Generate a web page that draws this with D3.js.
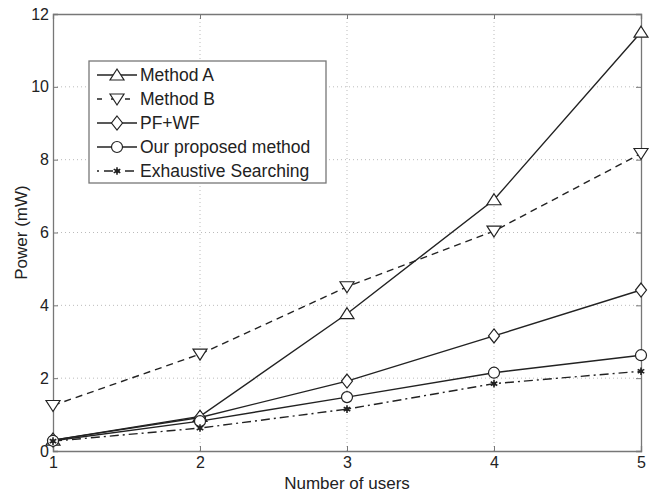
<!DOCTYPE html>
<html>
<head>
<meta charset="utf-8">
<script src="https://cdn.jsdelivr.net/npm/d3@7"></script>
<style>
	body { margin: 0; background: #fff; }
	text { font-family: "Liberation Sans", Arial, sans-serif; fill: #222; }
</style>
</head>
<body>
<svg id="chart" width="654" height="492"></svg>
<script>
const users = [1, 2, 3, 4, 5];
const methodA = [0.3, 0.95, 3.77, 6.9, 11.5];
const methodB = [1.25, 2.66, 4.51, 6.04, 8.17];
const pfwf = [0.3, 0.92, 1.92, 3.16, 4.42];
const proposed = [0.28, 0.82, 1.48, 2.15, 2.63];
const exhaustive = [0.27, 0.63, 1.15, 1.85, 2.19];
const yTicks = [0, 2, 4, 6, 8, 10, 12];

const seriesList = [
	{ name: "Method A", values: methodA, marker: "triUp", dash: null },
	{ name: "Method B", values: methodB, marker: "triDown", dash: "7,5" },
	{ name: "PF+WF", values: pfwf, marker: "diamond", dash: null },
	{ name: "Our proposed method", values: proposed, marker: "circle", dash: null },
	{ name: "Exhaustive Searching", values: exhaustive, marker: "star", dash: "9,4,2,4" }
];

const margin = { left: 53, right: 13, top: 14, bottom: 41 };
const svg = d3.select("#chart");
const width = 654 - margin.left - margin.right;
const height = 492 - margin.top - margin.bottom;
const g = svg.append("g").attr("transform", `translate(${margin.left},${margin.top})`);

const x = d3.scaleLinear().domain([1, 5]).range([0, width]);
const y = d3.scaleLinear().domain([0, 12]).range([height, 0]);

const axisColor = "#777";

// dotted grid
g.append("g").selectAll("line.gx")
	.data(users.slice(1, -1))
	.enter().append("line")
	.attr("x1", d => x(d)).attr("x2", d => x(d))
	.attr("y1", 0).attr("y2", height)
	.attr("stroke", "#bbb").attr("stroke-dasharray", "1,3");
g.append("g").selectAll("line.gy")
	.data(yTicks.slice(1, -1))
	.enter().append("line")
	.attr("x1", 0).attr("x2", width)
	.attr("y1", d => y(d)).attr("y2", d => y(d))
	.attr("stroke", "#bbb").attr("stroke-dasharray", "1,3");

// axes (ticks pointing inward, box style)
const xAxis = g.append("g").attr("transform", `translate(0,${height})`)
	.call(d3.axisBottom(x).tickValues(users).tickSize(-5).tickPadding(6).tickFormat(d3.format("d")));
const xAxisTop = g.append("g")
	.call(d3.axisTop(x).tickValues(users).tickSize(-5).tickFormat(""));
const yAxis = g.append("g")
	.call(d3.axisLeft(y).tickValues(yTicks).tickSize(-5).tickPadding(4).tickFormat(d3.format("d")));
const yAxisRight = g.append("g").attr("transform", `translate(${width},0)`)
	.call(d3.axisRight(y).tickValues(yTicks).tickSize(-5).tickFormat(""));

[xAxis, xAxisTop, yAxis, yAxisRight].forEach(a => {
	a.select(".domain").attr("stroke", axisColor).attr("stroke-width", 1.3);
	a.selectAll(".tick line").attr("stroke", axisColor);
	a.selectAll(".tick text").style("font-size", "16px").attr("fill", "#222")
		.style("font-family", "Liberation Sans, Arial, sans-serif");
});

// axis labels
svg.append("text")
	.attr("x", margin.left + width / 2).attr("y", 489)
	.attr("text-anchor", "middle").style("font-size", "17px")
	.text("Number of users");
svg.append("text")
	.attr("transform", `translate(27,${margin.top + height / 2}) rotate(-90)`)
	.attr("text-anchor", "middle").style("font-size", "17px")
	.text("Power (mW)");

function drawMarker(sel, type, cx, cy) {
	const stroke = "#222";
	if (type === "triUp") {
		sel.append("path").attr("d", `M${cx},${cy - 6}L${cx + 7},${cy + 5}L${cx - 7},${cy + 5}Z`)
			.attr("fill", "#fff").attr("stroke", stroke).attr("stroke-width", 1.2);
	} else if (type === "triDown") {
		sel.append("path").attr("d", `M${cx},${cy + 6}L${cx + 7},${cy - 5}L${cx - 7},${cy - 5}Z`)
			.attr("fill", "#fff").attr("stroke", stroke).attr("stroke-width", 1.2);
	} else if (type === "diamond") {
		sel.append("path").attr("d", `M${cx},${cy - 7}L${cx + 5.5},${cy}L${cx},${cy + 7}L${cx - 5.5},${cy}Z`)
			.attr("fill", "#fff").attr("stroke", stroke).attr("stroke-width", 1.2);
	} else if (type === "circle") {
		sel.append("circle").attr("cx", cx).attr("cy", cy).attr("r", 5.5)
			.attr("fill", "#fff").attr("stroke", stroke).attr("stroke-width", 1.2);
	} else if (type === "star") {
		sel.append("path").attr("d", d3.symbol().type(d3.symbolAsterisk).size(40)())
			.attr("transform", `translate(${cx},${cy})`)
			.attr("fill", "none").attr("stroke", stroke).attr("stroke-width", 1.6);
		sel.append("circle").attr("cx", cx).attr("cy", cy).attr("r", 2).attr("fill", stroke);
	}
}

const line = d3.line().x((d, i) => x(users[i])).y(d => y(d));

seriesList.forEach(s => {
	const sg = g.append("g");
	sg.append("path")
		.attr("d", line(s.values))
		.attr("fill", "none")
		.attr("stroke", "#222")
		.attr("stroke-width", 1.4)
		.attr("stroke-dasharray", s.dash);
});
seriesList.forEach(s => {
	const mg = g.append("g");
	s.values.forEach((v, i) => drawMarker(mg, s.marker, x(users[i]), y(v)));
});

// legend
const legend = svg.append("g");
legend.append("rect")
	.attr("x", 89).attr("y", 61).attr("width", 237).attr("height", 122)
	.attr("fill", "#fff").attr("stroke", axisColor).attr("stroke-width", 1.3);
const rowY = [75, 99, 123, 147, 171];
seriesList.forEach((s, i) => {
	const ly = rowY[i];
	legend.append("line")
		.attr("x1", 97).attr("x2", 137).attr("y1", ly).attr("y2", ly)
		.attr("stroke", "#222").attr("stroke-width", 1.4)
		.attr("stroke-dasharray", s.dash === "7,5" ? "5,9" : (s.dash ? "2,5,9,5" : null));
	drawMarker(legend, s.marker, 117, ly);
	legend.append("text")
		.attr("x", 140).attr("y", ly + 6)
		.style("font-size", "17.5px")
		.text(s.name);
});
</script>
</body>
</html>
